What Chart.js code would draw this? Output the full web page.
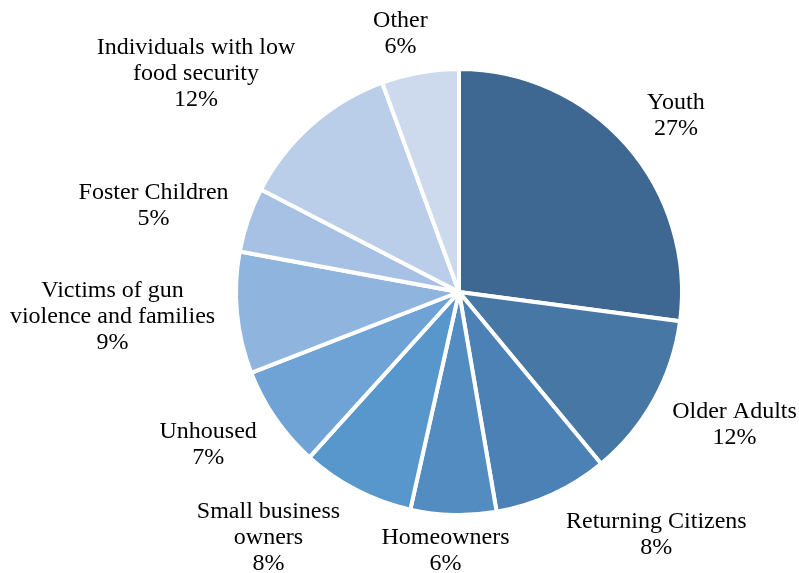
<!DOCTYPE html>
<html>
<head>
<meta charset="utf-8">
<title>Population served</title>
<script src="https://cdn.jsdelivr.net/npm/chart.js@4/dist/chart.umd.min.js"></script>
<style>
    html, body { margin: 0; padding: 0; background: #fff; }
    #wrap { width: 799px; height: 573px; }
</style>
</head>
<body>
<div id="wrap"><canvas id="pieChart" width="799" height="573"></canvas></div>
<script>
// Categories (multi-line labels as in the original)
const categories = [
    ['Youth'],
    ['Older Adults'],
    ['Returning Citizens'],
    ['Homeowners'],
    ['Small business', 'owners'],
    ['Unhoused'],
    ['Victims of gun', 'violence and families'],
    ['Foster Children'],
    ['Individuals with low', 'food security'],
    ['Other']
];

// Share of each group (%)
const shares = [27.1, 11.9, 8.3, 6.2, 8.2, 7.4, 8.8, 4.7, 11.8, 5.6];

// Slice colours
const sliceColors = [
    '#3e6891', '#4677a5', '#4b81b5', '#528cc0', '#5897cc',
    '#6fa3d5', '#8fb4dd', '#a6c1e4', '#bbcee9', '#cddaee'
];

// Where each label block sits: [angle from 12 o'clock in deg, distance in pie radii]
const labelPlacement = [
    [50.6, 1.27], [115.4, 1.38], [140.7, 1.41], [183.0, 1.165], [218.0, 1.40],
    [239.0, 1.324], [266.2, 1.571], [286.2, 1.439], [309.9, 1.551], [347.3, 1.206]
];

const LABEL_FONT = '24px "Liberation Serif", "Times New Roman", serif';
const LINE_H = 26;
const TEXT_NUDGE = 2; // canvas 'middle' sits a little high vs. the original

// Draws the category name + percentage outside each slice
const outsideLabels = {
    id: 'outsideLabels',
    afterDatasetsDraw(chart) {
        const ctx = chart.ctx;
        const meta = chart.getDatasetMeta(0);
        const data = chart.data.datasets[0].data;
        const total = data.reduce((a, b) => a + b, 0);

        ctx.save();
        ctx.font = LABEL_FONT;
        ctx.fillStyle = '#000';
        ctx.textAlign = 'center';
        ctx.textBaseline = 'middle';

        meta.data.forEach((arc, i) => {
            const { x, y, outerRadius } = arc.getProps(['x', 'y', 'outerRadius'], true);
            const r = outerRadius - arc.options.borderWidth / 2;
            const [deg, dist] = labelPlacement[i];
            const a = deg * Math.PI / 180;
            const cx = x + Math.sin(a) * dist * r;
            const cy = y - Math.cos(a) * dist * r + TEXT_NUDGE;

            const lines = chart.data.labels[i].concat(Math.round(data[i] / total * 100) + '%');
            const top = cy - (lines.length - 1) * LINE_H / 2;
            lines.forEach((t, k) => ctx.fillText(t, cx, top + k * LINE_H));
        });
        ctx.restore();
    }
};

function init() {
    const ctx = document.getElementById('pieChart').getContext('2d');
    new Chart(ctx, {
        type: 'pie',
        data: {
            labels: categories,
            datasets: [{
                data: shares,
                backgroundColor: sliceColors,
                borderColor: '#ffffff',
                borderWidth: 4
            }]
        },
        options: {
            responsive: false,
            animation: false,
            devicePixelRatio: 1,
            layout: {
                padding: { top: 67, bottom: 56, left: 234, right: 115 }
            },
            plugins: {
                legend: { display: false },
                tooltip: { enabled: false }
            }
        },
        plugins: [outsideLabels]
    });
}

window.addEventListener('DOMContentLoaded', init);
</script>
</body>
</html>
